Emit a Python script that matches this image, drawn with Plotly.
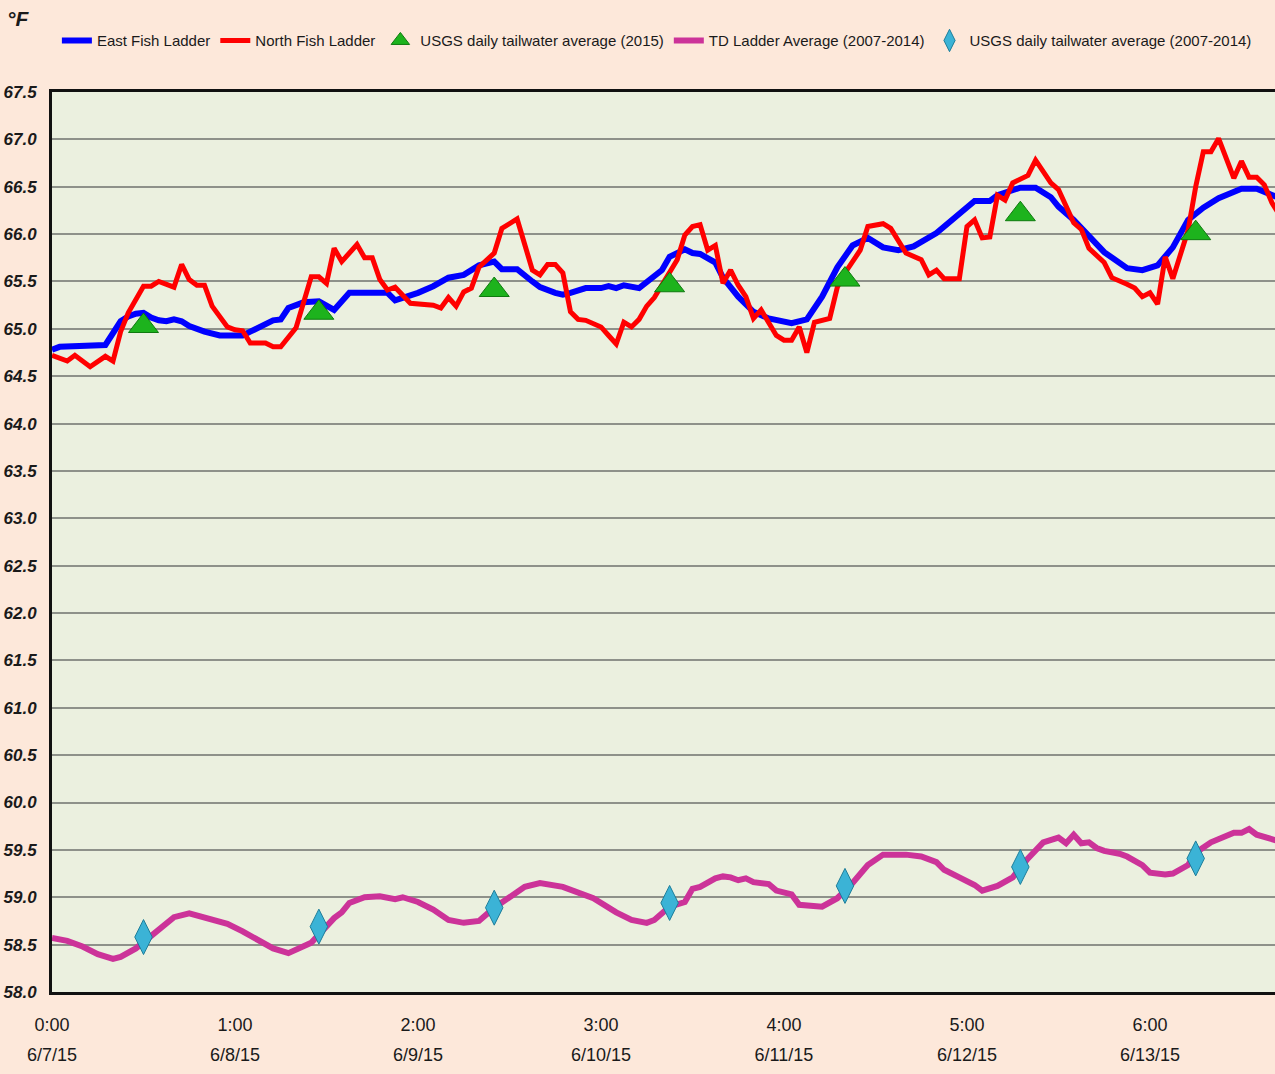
import plotly.graph_objects as go

# ---------------- data (hours since 6/7/15 0:00, °F) ----------------
east_hours = [0, 1, 7, 8, 9, 10, 11, 12, 13, 14, 15, 16, 17, 18, 20, 22, 25, 26, 29, 30,
              31, 33, 35, 37, 39, 44, 45, 48, 50, 52, 54, 56, 58, 59, 61, 63, 64, 66, 67, 68,
              70, 72, 73, 74, 75, 77, 78, 80, 81, 83, 84, 85, 87, 88, 90, 92, 94, 97, 99, 101,
              103, 105, 107, 109, 111, 113, 116, 118, 121, 123, 124, 127, 129, 131, 132, 134,
              136, 138, 141, 143, 145, 147, 149, 151, 153, 156, 158, 160, 161]
east_vals = [64.78, 64.81, 64.83, 64.95, 65.08, 65.13, 65.16, 65.17, 65.12, 65.09, 65.08, 65.10,
             65.08, 65.03, 64.97, 64.93, 64.93, 64.97, 65.09, 65.10, 65.22, 65.28, 65.29, 65.20,
             65.38, 65.38, 65.30, 65.38, 65.45, 65.54, 65.57, 65.67, 65.71, 65.63, 65.63, 65.50,
             65.44, 65.38, 65.36, 65.38, 65.43, 65.43, 65.45, 65.43, 65.46, 65.43, 65.50, 65.62,
             65.76, 65.84, 65.80, 65.79, 65.70, 65.54, 65.34, 65.18, 65.11, 65.06, 65.10, 65.34,
             65.65, 65.88, 65.96, 65.86, 65.83, 65.87, 66.01, 66.15, 66.35, 66.35, 66.41, 66.49,
             66.49, 66.39, 66.29, 66.15, 65.99, 65.81, 65.64, 65.62, 65.67, 65.86, 66.15, 66.28,
             66.38, 66.48, 66.48, 66.41, 66.38]

north_hours = [0, 2, 3, 5, 7, 8, 9, 10, 12, 13, 14, 16, 17, 18, 19, 20, 21, 23, 24, 25,
               26, 28, 29, 30, 32, 33, 34, 35, 36, 37, 38, 40, 41, 42, 43, 44, 45, 47, 50, 51,
               52, 53, 54, 55, 56, 58, 59, 61, 63, 64, 65, 66, 67, 68, 69, 70, 71, 72, 73, 74,
               75, 76, 77, 78, 79, 81, 82, 83, 84, 85, 86, 87, 88, 89, 90, 91, 92, 93, 95, 96,
               97, 98, 99, 100, 102, 103, 104, 106, 107, 109, 110, 112, 114, 115, 116, 117, 119,
               120, 121, 122, 123, 124, 125, 126, 128, 129, 131, 132, 134, 135, 136, 138, 139,
               141, 142, 143, 144, 145, 146, 147, 149, 150, 151, 152, 153, 155, 156, 157, 158,
               159, 160, 161]
north_vals = [64.72, 64.66, 64.72, 64.60, 64.71, 64.66, 64.97, 65.17, 65.45, 65.45, 65.50, 65.44,
              65.68, 65.52, 65.46, 65.46, 65.24, 65.02, 64.99, 64.98, 64.85, 64.85, 64.81, 64.81,
              65.01, 65.28, 65.55, 65.55, 65.48, 65.85, 65.71, 65.89, 65.75, 65.75, 65.52, 65.41,
              65.44, 65.27, 65.25, 65.22, 65.33, 65.24, 65.39, 65.43, 65.65, 65.80, 66.06, 66.16,
              65.62, 65.57, 65.68, 65.68, 65.59, 65.18, 65.10, 65.09, 65.06, 65.02, 64.93, 64.84,
              65.07, 65.02, 65.10, 65.24, 65.33, 65.60, 65.73, 65.99, 66.08, 66.10, 65.83, 65.88,
              65.48, 65.62, 65.46, 65.34, 65.11, 65.20, 64.93, 64.88, 64.88, 65.02, 64.75, 65.07,
              65.11, 65.44, 65.59, 65.83, 66.08, 66.11, 66.06, 65.80, 65.73, 65.57, 65.62, 65.53,
              65.53, 66.08, 66.15, 65.96, 65.97, 66.41, 66.36, 66.54, 66.62, 66.78, 66.54, 66.47,
              66.12, 66.05, 65.85, 65.70, 65.54, 65.47, 65.43, 65.34, 65.38, 65.26, 65.76, 65.53,
              66.04, 66.50, 66.87, 66.87, 67.01, 66.59, 66.77, 66.60, 66.60, 66.52, 66.33, 66.20]

td_hours = [0, 2, 4, 6, 8, 9, 11, 14, 16, 18, 20, 22, 23, 25, 27, 29, 31, 32, 34, 37,
            38, 39, 41, 43, 45, 46, 48, 50, 52, 54, 56, 58, 60, 62, 64, 67, 71, 74, 76, 78,
            79, 81, 83, 84, 85, 87, 88, 89, 90, 91, 92, 94, 95, 97, 98, 100, 101, 103, 105,
            107, 109, 112, 114, 116, 117, 119, 121, 122, 124, 126, 128, 130, 132, 133, 134,
            135, 136, 137, 138, 140, 141, 143, 144, 146, 147, 149, 150, 152, 155, 156, 157,
            158, 160, 161]
td_vals = [58.57, 58.54, 58.48, 58.40, 58.35, 58.37, 58.46, 58.65, 58.79, 58.83, 58.79, 58.74,
           58.72, 58.64, 58.55, 58.46, 58.41, 58.45, 58.52, 58.78, 58.84, 58.94, 59.00, 59.01,
           58.98, 59.00, 58.95, 58.87, 58.76, 58.73, 58.75, 58.89, 59.00, 59.11, 59.15, 59.11,
           58.99, 58.84, 58.76, 58.73, 58.76, 58.90, 58.95, 59.09, 59.11, 59.20, 59.22, 59.21,
           59.18, 59.20, 59.16, 59.14, 59.07, 59.03, 58.92, 58.90, 58.90, 58.99, 59.15, 59.34,
           59.45, 59.45, 59.43, 59.37, 59.29, 59.21, 59.13, 59.07, 59.12, 59.21, 59.41, 59.58,
           59.63, 59.57, 59.66, 59.57, 59.58, 59.52, 59.49, 59.46, 59.43, 59.34, 59.26, 59.24,
           59.25, 59.34, 59.47, 59.58, 59.68, 59.68, 59.72, 59.66, 59.62, 59.59]

usgs_hours = [12, 35, 58, 81, 104, 127, 150]
usgs_2015 = [65.03, 65.17, 65.41, 65.46, 65.52, 66.21, 66.01]
usgs_0714 = [58.58, 58.69, 58.89, 58.94, 59.12, 59.32, 59.41]

tick_hours = [0, 24, 48, 72, 96, 120, 144]
tick_times = ["0:00", "1:00", "2:00", "3:00", "4:00", "5:00", "6:00"]
tick_dates = ["6/7/15", "6/8/15", "6/9/15", "6/10/15", "6/11/15", "6/12/15", "6/13/15"]

FONT = "Liberation Sans, Arial, sans-serif"
TXT = "#1a1a1a"
X_RANGE = [0, 160.4]

fig = go.Figure()
fig.add_trace(go.Scatter(x=east_hours, y=east_vals, mode="lines", name="East Fish Ladder",
                         line=dict(color="#0000FF", width=6)))
fig.add_trace(go.Scatter(x=north_hours, y=north_vals, mode="lines", name="North Fish Ladder",
                         line=dict(color="#FF0000", width=5)))
fig.add_trace(go.Scatter(x=usgs_hours, y=usgs_2015, mode="markers",
                         name="USGS daily tailwater average (2015)",
                         marker=dict(symbol="triangle-up", size=26, color="#1DB31D",
                                     line=dict(color="#0E7A0E", width=1))))
fig.add_trace(go.Scatter(x=td_hours, y=td_vals, mode="lines", name="TD Ladder Average (2007-2014)",
                         line=dict(color="#CC3399", width=6)))
fig.add_trace(go.Scatter(x=usgs_hours, y=usgs_0714, mode="markers",
                         name="USGS daily tailwater average (2007-2014)",
                         marker=dict(symbol="diamond-tall", size=25, color="#3BB3D6",
                                     line=dict(color="#1E7E9A", width=1))))
# invisible trace carrying the second (date) row of x tick labels
fig.add_trace(go.Scatter(x=[X_RANGE[0]], y=[None], xaxis="x2", showlegend=False,
                         hoverinfo="skip", mode="lines"))

fig.update_layout(
    width=1275, height=1074,
    margin=dict(l=52, r=0, t=92, b=82, autoexpand=False),
    paper_bgcolor="#FDE8DA",
    plot_bgcolor="#EBF0DF",
    font=dict(family=FONT, color=TXT),
    showlegend=True,
    legend=dict(orientation="h", x=0.004, xanchor="left", y=1.057, yanchor="middle",
                font=dict(size=15, family=FONT, color=TXT),
                bgcolor="rgba(0,0,0,0)", itemwidth=30, tracegroupgap=0),
    xaxis=dict(range=X_RANGE, tickvals=tick_hours, ticktext=tick_times,
               showgrid=False, zeroline=False, showline=True, linecolor="#111111",
               linewidth=3, mirror=True, ticks="", ticklabelstandoff=14, automargin=False,
               tickfont=dict(size=18, family=FONT, color=TXT)),
    xaxis2=dict(overlaying="x", side="bottom", anchor="y", range=X_RANGE,
                tickvals=tick_hours, ticktext=tick_dates, showgrid=False, zeroline=False,
                showline=False, ticks="", ticklabelstandoff=50, automargin=False,
                tickfont=dict(size=18, family=FONT, color=TXT)),
    yaxis=dict(range=[58, 67.5], dtick=0.5, tick0=58, tickformat=".1f",
               showgrid=True, gridcolor="#8E918A", gridwidth=2, zeroline=False,
               showline=True, linecolor="#111111", linewidth=3, mirror=True,
               ticks="", ticklabelstandoff=9, automargin=False,
               tickfont=dict(size=17, family=FONT, color=TXT, weight="bold", style="italic")),
    annotations=[dict(text="°F", xref="paper", yref="paper",
                      x=-0.0278, y=1.082, xanchor="center", yanchor="middle",
                      showarrow=False,
                      font=dict(size=21, family=FONT, color=TXT, weight="bold", style="italic"))],
)

fig.write_html("out.html", config={"displayModeBar": False},
               post_script="document.body.style.margin='0';document.body.style.overflow='hidden';")
